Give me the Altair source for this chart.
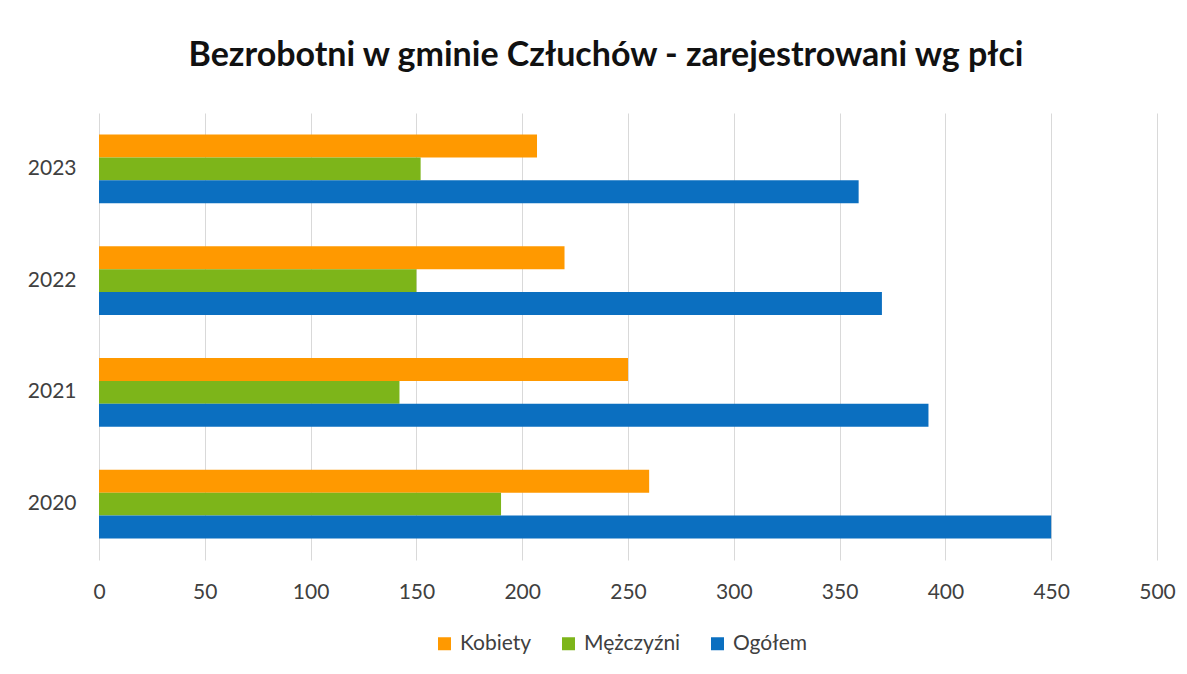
import altair as alt
import pandas as pd

years = ["2023", "2022", "2021", "2020"]
series = ["Kobiety", "Mężczyźni", "Ogółem"]
kobiety = [207, 220, 250, 260]
mezczyzni = [152, 150, 142, 190]
ogolem = [359, 370, 392, 450]
colors = ["#FF9900", "#7DB51A", "#0B6FC0"]

rows = []
for i, y in enumerate(years):
    for s, vals in zip(series, [kobiety, mezczyzni, ogolem]):
        rows.append({"Rok": y, "Grupa": s, "Liczba": vals[i]})
df = pd.DataFrame(rows)

FONT = "Lato"

chart = alt.Chart(df).mark_bar().encode(
    y=alt.Y("Rok:N", sort=years, title=None,
            scale=alt.Scale(paddingInner=0.385, paddingOuter=0.1925),
            axis=alt.Axis(ticks=False, domain=False, grid=False, labelPadding=23,
                          labelFontSize=21, labelColor="#404040", labelFont=FONT)),
    yOffset=alt.YOffset("Grupa:N", sort=series),
    x=alt.X("Liczba:Q", title=None,
            scale=alt.Scale(domain=[0, 500], nice=False),
            axis=alt.Axis(values=list(range(0, 501, 50)), ticks=False, domain=False,
                          labelFlush=False, labelPadding=21, labelFontSize=21,
                          labelColor="#404040", labelFont=FONT,
                          gridColor="#d9d9d9", gridWidth=1)),
    color=alt.Color("Grupa:N", sort=series,
                    scale=alt.Scale(domain=series, range=colors),
                    legend=alt.Legend(title=None, orient="none", direction="horizontal",
                                      legendX=335, legendY=520, symbolType="square",
                                      symbolSize=169, labelFontSize=21, labelFont=FONT,
                                      labelColor="#404040", columnPadding=26,
                                      labelOffset=5, symbolStrokeWidth=0)),
).properties(
    width=1058,
    height=447,
    title=alt.TitleParams("Bezrobotni w gminie Człuchów - zarejestrowani wg płci",
                          fontSize=34, font=FONT, fontWeight="bold", color="#111111",
                          anchor="middle", dx=-22, offset=40),
    autosize=alt.AutoSizeParams(type="none"),
    padding={"left": 91, "top": 105, "right": 22, "bottom": 105},
).configure(background="white").configure_view(stroke=None, strokeWidth=0)

chart.save("out.html", embed_options={"renderer": "svg", "actions": False})
